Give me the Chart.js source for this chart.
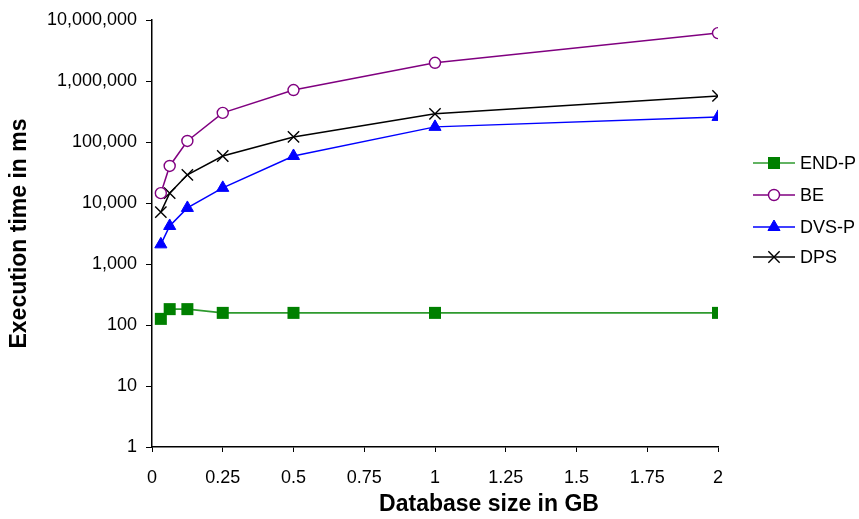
<!DOCTYPE html>
<html>
<head>
<meta charset="utf-8">
<script src="https://cdn.jsdelivr.net/npm/chart.js@4"></script>
<style>
  html, body { margin: 0; padding: 0; background: #fff; }
</style>
</head>
<body>
<canvas id="chart" width="859" height="519"></canvas>
<script>
// database sizes in GB
const sizes = [0.03125, 0.0625, 0.125, 0.25, 0.5, 1, 2];

// execution times in ms
const endP = [126, 182, 182, 158, 158, 158, 158];
const be   = [14500, 40500, 104000, 300000, 710000, 1990000, 6100000];
const dvsP = [2100, 4200, 8300, 17700, 59000, 177000, 258000];
const dps  = [7100, 14500, 29000, 59000, 121000, 290000, 570000];

const xTicks = [0, 0.25, 0.5, 0.75, 1, 1.25, 1.5, 1.75, 2];
const yTicks = [1, 10, 100, 1000, 10000, 100000, 1000000, 10000000];

function pts(vals) {
  return sizes.map(function(s, i) { return {x: s, y: vals[i]}; });
}

const FONT = 'Arial, "Liberation Sans", sans-serif';

// legend with a short line through the marker, like the original,
// plus the x title, which sits off-centre in the original
const lineLegend = {
  id: 'lineLegend',
  afterDraw: function(chart) {
    const ctx = chart.ctx;
    const x0 = 753, x1 = 795, tx = 800;
    const ys = [163, 195, 227, 257];
    ctx.save();
    chart.data.datasets.forEach(function(ds, i) {
      const y = ys[i];
      ctx.strokeStyle = ds.borderColor;
      ctx.lineWidth = ds.borderWidth;
      ctx.beginPath();
      ctx.moveTo(x0, y);
      ctx.lineTo(x1, y);
      ctx.stroke();
      ctx.fillStyle = ds.pointBackgroundColor;
      ctx.strokeStyle = ds.pointBorderColor;
      ctx.lineWidth = ds.pointBorderWidth;
      Chart.helpers.drawPoint(ctx, {
        pointStyle: ds.pointStyle,
        radius: ds.pointRadius,
        rotation: 0,
        borderWidth: ds.pointBorderWidth
      }, (x0 + x1) / 2, y);
      ctx.fillStyle = '#000';
      ctx.font = '18px ' + FONT;
      ctx.textBaseline = 'middle';
      ctx.textAlign = 'left';
      ctx.fillText(ds.label, tx, y + 1);
    });
    ctx.font = 'bold 23px ' + FONT;
    ctx.textAlign = 'center';
    ctx.textBaseline = 'middle';
    ctx.fillText('Database size in GB', 489, 505);
    ctx.restore();
  }
};

new Chart(document.getElementById('chart').getContext('2d'), {
  type: 'line',
  data: {
    datasets: [{
      label: 'END-P',
      data: pts(endP),
      borderColor: '#2e9a2e',
      borderWidth: 1.6,
      pointStyle: 'rect',
      pointRadius: 8.5,
      pointBackgroundColor: '#008000',
      pointBorderColor: '#008000',
      pointBorderWidth: 0
    }, {
      label: 'BE',
      data: pts(be),
      borderColor: '#800080',
      borderWidth: 1.5,
      pointStyle: 'circle',
      pointRadius: 5.5,
      pointBackgroundColor: '#ffffff',
      pointBorderColor: '#800080',
      pointBorderWidth: 1.4
    }, {
      label: 'DVS-P',
      data: pts(dvsP),
      borderColor: '#0000ff',
      borderWidth: 1.5,
      pointStyle: 'triangle',
      pointRadius: 7,
      pointBackgroundColor: '#0000ff',
      pointBorderColor: '#0000ff',
      pointBorderWidth: 1
    }, {
      label: 'DPS',
      data: pts(dps),
      borderColor: '#000000',
      borderWidth: 1.5,
      pointStyle: 'crossRot',
      pointRadius: 8,
      pointBackgroundColor: '#000000',
      pointBorderColor: '#000000',
      pointBorderWidth: 1.4
    }]
  },
  options: {
    responsive: false,
    animation: false,
    layout: { padding: { left: 0, right: 141, top: 20, bottom: 0 } },
    plugins: {
      legend: { display: false },
      tooltip: { enabled: false }
    },
    scales: {
      x: {
        type: 'linear',
        min: 0,
        max: 2,
        afterBuildTicks: function(axis) {
          axis.ticks = xTicks.map(function(v) { return {value: v}; });
        },
        afterFit: function(axis) { axis.height = 72; },
        grid: { drawOnChartArea: false, color: '#000', tickLength: 5 },
        border: { color: '#000', width: 1.5 },
        ticks: {
          color: '#000',
          font: { family: FONT, size: 18 },
          padding: 15,
          maxRotation: 0,
          callback: function(v) { return String(v); }
        },
        title: { display: false }
      },
      y: {
        type: 'logarithmic',
        min: 1,
        max: 10000000,
        afterBuildTicks: function(axis) {
          axis.ticks = yTicks.map(function(v) { return {value: v}; });
        },
        afterFit: function(axis) { axis.width = 152; },
        grid: { drawOnChartArea: false, color: '#000', tickLength: 6 },
        border: { color: '#000', width: 1.5 },
        ticks: {
          color: '#000',
          font: { family: FONT, size: 18 },
          padding: 9,
          callback: function(v) { return Number(v).toLocaleString('en-US'); }
        },
        title: {
          display: true,
          text: 'Execution time in ms',
          color: '#000',
          font: { family: FONT, size: 23, weight: 'bold' },
          padding: { top: 6, bottom: 0 }
        }
      }
    }
  },
  plugins: [lineLegend]
});
</script>
</body>
</html>
